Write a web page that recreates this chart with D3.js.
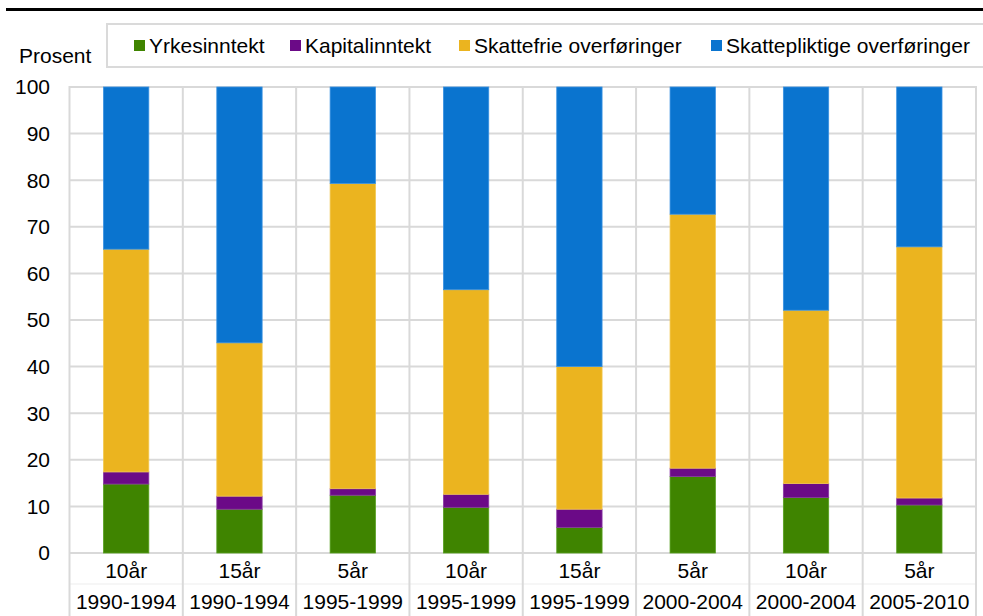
<!DOCTYPE html>
<html>
<head>
<meta charset="utf-8">
<script src="https://cdn.jsdelivr.net/npm/d3@7"></script>
<style>
  html, body { margin: 0; padding: 0; background: #fff; }
  svg { display: block; }
  text { font-family: "Liberation Sans", Arial, sans-serif; fill: #000; }
</style>
</head>
<body>
<svg id="chart" width="983" height="616"></svg>
<script>
// ---- Data ----
const periods = ["10år", "15år", "5år", "10år", "15år", "5år", "10år", "5år"];
const years = ["1990-1994", "1990-1994", "1995-1999", "1995-1999", "1995-1999", "2000-2004", "2000-2004", "2005-2010"];
const seriesNames = ["Yrkesinntekt", "Kapitalinntekt", "Skattefrie overføringer", "Skattepliktige overføringer"];
const yrkesinntekt = [14.8, 9.4, 12.4, 9.8, 5.5, 16.4, 11.9, 10.3];
const kapitalinntekt = [2.6, 2.8, 1.4, 2.8, 3.9, 1.8, 3.0, 1.5];
const skattefrie = [47.8, 32.9, 65.5, 43.9, 30.6, 54.5, 37.2, 53.9];
const skattepliktige = [34.8, 54.9, 20.7, 43.5, 60.0, 27.3, 47.9, 34.3];
const yTicks = [0, 10, 20, 30, 40, 50, 60, 70, 80, 90, 100];
const colors = ["#3f8400", "#6b0a87", "#ebb41f", "#0a74cf"];
const strokeColors = ["#58a020", "#8a38a4", "#f2c850", "#3a92e2"];

(function () {
// ---- Build table ----
const seriesArrays = [yrkesinntekt, kapitalinntekt, skattefrie, skattepliktige];
const table = periods.map((p, i) => {
  const row = { idx: i };
  seriesNames.forEach((s, k) => row[s] = seriesArrays[k][i]);
  return row;
});

const svg = d3.select("#chart");
const pLeft = 69.5, pRight = 976, pTop = 87, pBottom = 553;

const x = d3.scaleBand().domain(d3.range(periods.length)).range([pLeft, pRight])
  .paddingInner(0.6).paddingOuter(0.3);
const y = d3.scaleLinear().domain([0, 100]).range([pBottom, pTop]);
const step = x.step();

// Top black rule
svg.append("line").attr("x1", 6).attr("x2", 983).attr("y1", 9.5).attr("y2", 9.5)
  .attr("stroke", "#000").attr("stroke-width", 3);

// Grid
const grid = svg.append("g");
grid.selectAll("line.h").data(yTicks).join("line")
  .attr("x1", pLeft).attr("x2", pRight)
  .attr("y1", d => y(d)).attr("y2", d => y(d))
  .attr("stroke", "#d9d9d9").attr("stroke-width", 2);
// faint line between label rows
grid.append("line").attr("x1", pLeft).attr("x2", pRight).attr("y1", 584).attr("y2", 584)
  .attr("stroke", "#f3f3f3").attr("stroke-width", 1.5);
const bounds = d3.range(periods.length + 1).map(i => pLeft + i * step);
grid.selectAll("line.v").data(bounds).join("line")
  .attr("x1", d => d).attr("x2", d => d)
  .attr("y1", pTop - 1).attr("y2", 616)
  .attr("stroke", "#d9d9d9").attr("stroke-width", 2);

// Bars
const stacked = d3.stack().keys(seriesNames)(table);
svg.append("g").selectAll("g").data(stacked).join("g")
  .attr("fill", (d, i) => colors[i])
  .attr("stroke", (d, i) => strokeColors[i])
  .attr("stroke-width", 0.8)
  .selectAll("rect").data(d => d).join("rect")
  .attr("x", d => x(d.data.idx))
  .attr("width", x.bandwidth())
  .attr("y", d => y(d[1]))
  .attr("height", d => y(d[0]) - y(d[1]));

// Y labels
svg.append("g").selectAll("text").data(yTicks).join("text")
  .attr("x", 50).attr("y", d => y(d) + 7.3)
  .attr("text-anchor", "end").attr("font-size", 21)
  .text(d => d);

// X labels
const xl = svg.append("g");
xl.selectAll("text.p").data(periods).join("text").attr("class", "p")
  .attr("x", (d, i) => x(i) + x.bandwidth() / 2).attr("y", 578)
  .attr("text-anchor", "middle").attr("font-size", 21).text(d => d);
xl.selectAll("text.yr").data(years).join("text").attr("class", "yr")
  .attr("x", (d, i) => x(i) + x.bandwidth() / 2).attr("y", 609)
  .attr("text-anchor", "middle").attr("font-size", 21).text(d => d);

// Prosent
svg.append("text").attr("x", 19).attr("y", 63).attr("font-size", 21).text("Prosent");

// Legend
svg.append("rect").attr("x", 107).attr("y", 24).attr("width", 900).attr("height", 43)
  .attr("fill", "#fff").attr("stroke", "#dadada").attr("stroke-width", 2);
const legX = [134, 290, 459, 711];
const leg = svg.append("g").selectAll("g").data(seriesNames).join("g")
  .attr("transform", (d, i) => `translate(${legX[i]},0)`);
leg.append("rect").attr("x", 0).attr("y", 40).attr("width", 11).attr("height", 11)
  .attr("fill", (d, i) => colors[i]);
leg.append("text").attr("x", 15).attr("y", 52.5).attr("font-size", 21).text(d => d);
})();
</script>
</body>
</html>
